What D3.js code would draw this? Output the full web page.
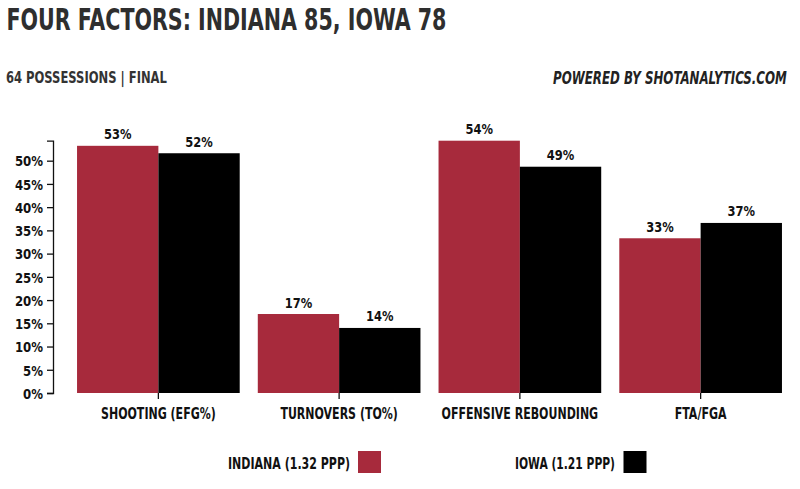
<!DOCTYPE html>
<html>
<head>
<meta charset="utf-8">
<script src="https://cdn.jsdelivr.net/npm/d3@7"></script>
<style>
  html, body { margin: 0; padding: 0; background: #fff; }
  svg { display: block; }
  text { font-family: "DejaVu Sans Condensed", "DejaVu Sans", sans-serif; }
</style>
</head>
<body>
<svg id="chart" width="800" height="489"></svg>
<script>
const categories = ["SHOOTING (EFG%)", "TURNOVERS (TO%)", "OFFENSIVE REBOUNDING", "FTA/FGA"];
const seriesNames = ["INDIANA (1.32 PPP)", "IOWA (1.21 PPP)"];
const indianaValues = [53.2, 17.0, 54.3, 33.3];
const iowaValues = [51.6, 14.0, 48.7, 36.6];
const yTicks = [0, 5, 10, 15, 20, 25, 30, 35, 40, 45, 50];
const colors = ["#A72A3C", "#000000"];

const series = [indianaValues, iowaValues];
const svg = d3.select("#chart");
const FONT = "'DejaVu Sans Condensed', 'DejaVu Sans', sans-serif";

function squeeze(sel, f) {
  sel.each(function () {
    const w = this.getComputedTextLength();
    d3.select(this).attr("textLength", w * f).attr("lengthAdjust", "spacingAndGlyphs");
  });
}
function fitTo(sel, w) {
  sel.attr("textLength", w).attr("lengthAdjust", "spacingAndGlyphs");
}
// place text scaled horizontally so that it occupies exactly width w starting at x
function scaledText(x, yPos, w, attrs, str) {
  const g = svg.append("g");
  const t = g.append("text").attr("x", 0).attr("y", 0).text(str);
  Object.entries(attrs).forEach(([k, v]) => t.attr(k, v));
  const nat = t.node().getComputedTextLength();
  g.attr("transform", `translate(${x},${yPos}) scale(${w / nat},1)`);
  return t;
}

// Title & subtitles
scaledText(6.5, 29.5, 440, { "font-size": 30, fill: "#2e2e2e", "font-weight": "bold" },
  "FOUR FACTORS: INDIANA 85, IOWA 78");
scaledText(6, 83.3, 161, { "font-size": 16, fill: "#333", "font-weight": "bold" },
  "64 POSSESSIONS | FINAL");
scaledText(553, 84, 234, { "font-size": 17, fill: "#222", "font-weight": "bold", "font-style": "italic" },
  "POWERED BY SHOTANALYTICS.COM");

const yMax = d3.max(series.flat());
const y = d3.scaleLinear().domain([0, yMax]).range([393, 140.7]);
const x0 = d3.scaleBand().domain(categories).range([68, 791]).paddingInner(0.1).paddingOuter(0.05);
const x1 = d3.scaleBand().domain([0, 1]).range([0, x0.bandwidth()]);

// Y axis
const yAxis = svg.append("g").attr("transform", "translate(53,0)")
  .call(d3.axisLeft(y).tickValues(yTicks).tickFormat(d => d + "%").tickSize(6).tickPadding(4));
yAxis.selectAll("path, line").attr("stroke", "#111").attr("stroke-width", 1.3);
yAxis.selectAll("text").attr("font-size", 14.5).attr("font-weight", "bold").attr("fill", "#111")
  .style("font-family", FONT).attr("dy", "0.36em");
squeeze(yAxis.selectAll("text"), 0.9);

// Bars
const groups = svg.append("g").selectAll("g").data(categories).join("g")
  .attr("transform", d => `translate(${x0(d)},0)`);
groups.selectAll("rect").data((d, i) => series.map((s, j) => ({ j, v: s[i] })))
  .join("rect")
  .attr("x", d => x1(d.j)).attr("width", x1.bandwidth())
  .attr("y", d => y(d.v)).attr("height", d => y(0) - y(d.v))
  .attr("fill", d => colors[d.j]);
const vals = groups.selectAll("text.val").data((d, i) => series.map((s, j) => ({ j, v: s[i] })))
  .join("text").attr("class", "val")
  .attr("x", d => x1(d.j) + x1.bandwidth() / 2).attr("y", d => y(d.v) - 6.5)
  .attr("text-anchor", "middle").attr("font-size", 14.5).attr("font-weight", "bold").attr("fill", "#111")
  .text(d => Math.round(d.v) + "%");
squeeze(vals, 0.88);

// X axis
const xAxis = svg.append("g").attr("transform", "translate(0,393)")
  .call(d3.axisBottom(x0).tickSize(6).tickPadding(9));
xAxis.select(".domain").remove();
xAxis.selectAll("line").attr("stroke", "#111").attr("stroke-width", 1.3);
xAxis.selectAll("text").attr("font-size", 15.5).attr("font-weight", "bold").attr("fill", "#111")
  .style("font-family", FONT);
squeeze(xAxis.selectAll("text"), 0.79);

// Legend
const legendPos = [{ textEnd: 350, sw: 358, w: 122 }, { textEnd: 615, sw: 623.5, w: 100 }];
seriesNames.forEach((name, j) => {
  fitTo(svg.append("text").attr("x", legendPos[j].textEnd - legendPos[j].w).attr("y", 469)
    .attr("font-size", 16).attr("font-weight", "bold").attr("fill", "#111")
    .text(name), legendPos[j].w);
  svg.append("rect").attr("x", legendPos[j].sw).attr("y", 451).attr("width", 23).attr("height", 22)
    .attr("fill", colors[j]);
});
</script>
</body>
</html>
